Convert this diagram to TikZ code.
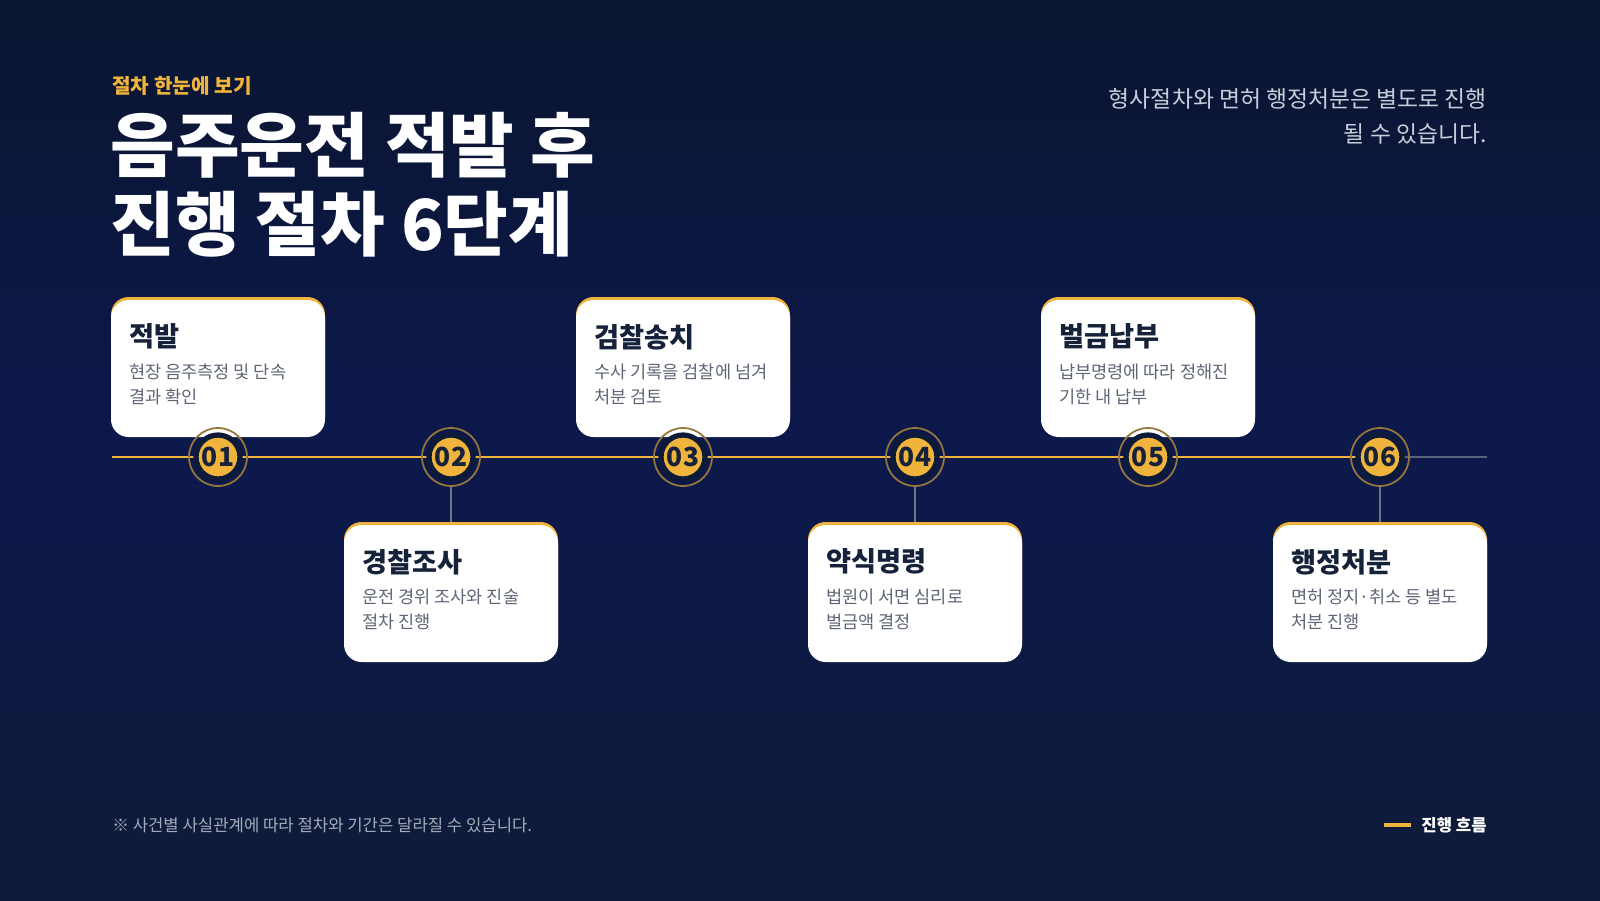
\documentclass[tikz,border=0pt]{standalone}
\usepackage{fontspec}
\setmainfont{Noto Sans CJK KR}
\usetikzlibrary{positioning}
\definecolor{navy}{HTML}{0E1B38}
\definecolor{navydeep}{HTML}{0A1530}
\definecolor{gold}{HTML}{F0B43C}
\definecolor{ink}{HTML}{16213A}
\definecolor{soft}{HTML}{5E6676}
\definecolor{mist}{HTML}{C9CFDA}
\tikzset{
  card/.style={fill=white, rounded corners=10pt, minimum width=214*0.02cm, minimum height=137*0.02cm, inner sep=0pt},
  cardtop/.style={fill=gold, rounded corners=10pt, minimum width=214*0.02cm, minimum height=137*0.02cm, inner sep=0pt},
  badge/.style={circle, fill=gold, draw=navy, line width=3pt, minimum size=44*0.02cm, inner sep=0pt, font=\bfseries\fontsize{15}{15}\selectfont, text=ink},
  ring/.style={circle, draw=gold!60!navy, line width=1pt, minimum size=58*0.02cm, inner sep=0pt},
  cardtitle/.style={anchor=north west, font=\bfseries\fontsize{15.5}{18}\selectfont, text=ink, inner sep=0pt},
  cardtext/.style={anchor=north west, align=left, font=\fontsize{10}{14}\selectfont, text=soft, inner sep=0pt}
}
\begin{document}
\begin{tikzpicture}[x=0.02cm, y=-0.02cm]
% background
\shade[top color=navydeep, bottom color=navy, middle color=navy!90!blue] (0,0) rectangle (1600,900);
\useasboundingbox (0,0) rectangle (1600,900);

% === Heading ===
\node[anchor=west, text=gold, font=\bfseries\fontsize{11.5}{12}\selectfont, inner sep=0pt] (kicker) at (112,86) {절차 한눈에 보기};
\node[anchor=north west, align=left, text=white, font=\bfseries\fontsize{40}{45}\selectfont, inner sep=0pt] (title) at (110,112) {음주운전 적발 후\\진행 절차 6단계};
\node[anchor=north east, align=right, text=mist, font=\fontsize{13}{20}\selectfont, inner sep=0pt] (note) at (1487,88) {형사절차와 면허 행정처분은 별도로 진행\\될 수 있습니다.};

% === Timeline ===
\coordinate (tl-start) at (112,457);
\coordinate (tl-end) at (1487,457);
\coordinate (tl-six) at (1380,457);
\draw[gold, line width=1.3pt] (tl-start) -- (tl-six);
\draw[mist!40!navy, line width=1pt] (tl-six) -- (tl-end);

% === Steps ===
\foreach \i/\x/\ttl/\txt [count=\k] in {
  01/218/적발/{현장 음주측정 및 단속\\결과 확인},
  02/451/경찰조사/{운전 경위 조사와 진술\\절차 진행},
  03/683/검찰송치/{수사 기록을 검찰에 넘겨\\처분 검토},
  04/915/약식명령/{법원이 서면 심리로\\벌금액 결정},
  05/1148/벌금납부/{납부명령에 따라 정해진\\기한 내 납부},
  06/1380/행정처분/{면허 정지·취소 등 별도\\처분 진행}} {
  \pgfmathsetmacro{\cy}{isodd(\k) ? 368.5 : 593.5}
  \node[cardtop] (bar\i) at (\x,\cy-3) {};
  \node[card] (card\i) at (\x,\cy) {};
  \node[cardtitle] (name\i) at ([xshift=18*0.02cm, yshift=-24*0.02cm]card\i.north west) {\ttl};
  \node[cardtext] (desc\i) at ([xshift=18*0.02cm, yshift=-64*0.02cm]card\i.north west) {\txt};
  \node[ring] (ring\i) at (\x,457) {};
  \node[badge] (num\i) at (\x,457) {\i};
  \ifodd\k\else
    \draw[mist!50!navy, line width=0.8pt] (ring\i.south) -- (bar\i.north);
  \fi
}

% === Footer ===
\node[anchor=west, text=mist!80!navy, font=\fontsize{9.5}{10}\selectfont, inner sep=0pt] (foot) at (112,825) {※ 사건별 사실관계에 따라 절차와 기간은 달라질 수 있습니다.};
\node[anchor=east, text=white, font=\bfseries\fontsize{9.5}{10}\selectfont, inner sep=0pt] (legend) at (1487,825) {진행 흐름};
\coordinate[left=10*0.02cm of legend.west] (leg-b);
\coordinate[left=27*0.02cm of leg-b] (leg-a);
\draw[gold, line width=2pt] (leg-a) -- (leg-b);
\end{tikzpicture}
\end{document}
